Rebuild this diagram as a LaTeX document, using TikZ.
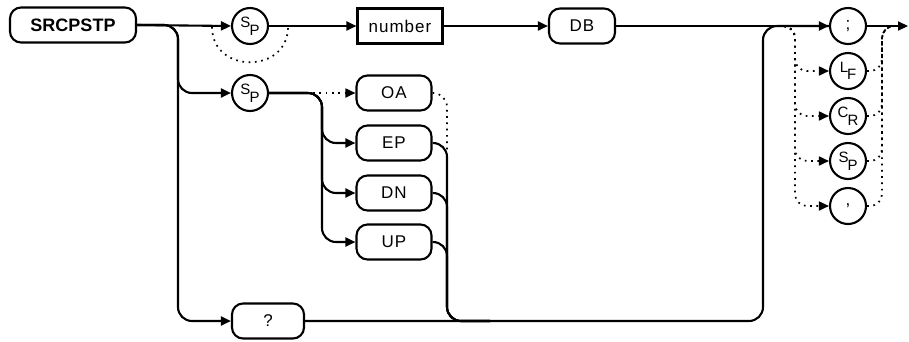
\documentclass[tikz,border=0pt]{standalone}
\usepackage{fontspec}
\setsansfont{Liberation Sans}
\usetikzlibrary{arrows.meta,calc}
\newcommand{\twolet}[2]{{\fontsize{15}{15}\selectfont\raisebox{0.4ex}{#1}\kern-1pt\raisebox{-0.55ex}{#2}}}

\begin{document}
\begin{tikzpicture}[x=1pt,y=1pt,
    every node/.style={font=\sffamily\fontsize{17}{17}\selectfont\addfontfeature{LetterSpace=6}},
    line/.style={line width=2.1pt},
    arr/.style={line, -{Triangle[length=10pt,width=9pt]}},
    dots/.style={line width=1.7pt, dash pattern=on 1.7pt off 4.6pt},
    dotarr/.style={dots, -{Triangle[length=10pt,width=9pt]}},
    keyword/.style={draw, line width=2.1pt, rounded corners=11pt, minimum height=35pt, inner sep=0pt},
    param/.style={draw, line width=2.1pt, minimum height=35pt, minimum width=85pt, inner sep=0pt},
    chr/.style={draw, circle, line width=2.1pt, minimum size=36pt, inner sep=0pt}]
    \useasboundingbox (0,0) rectangle (909,-341);

    % top row
    \node[keyword, minimum width=126pt, font=\sffamily\bfseries\fontsize{18}{18}\selectfont] (srcpstp) at (73,-25) {SRCPSTP};
    \node[chr] (sp1) at (250,-26) {\twolet{S}{P}};
    \node[param] (number) at (400,-26) {number};
    \node[keyword, minimum width=66pt] (db) at (582,-26) {DB};

    % second branch
    \node[chr] (sp2) at (250,-93) {\twolet{S}{P}};
    \node[keyword, minimum width=75pt] (oa) at (394,-93) {OA};
    \node[keyword, minimum width=75pt] (ep) at (394,-143) {EP};
    \node[keyword, minimum width=75pt] (dn) at (394,-193) {DN};
    \node[keyword, minimum width=75pt] (up) at (394,-242) {UP};
    \node[keyword, minimum width=72pt] (qm) at (268,-321) {?};

    % terminators
    \node[chr] (semi) at (848,-26) {;};
    \node[chr] (lf) at (848,-71) {\twolet{L}{F}};
    \node[chr] (cr) at (848,-116) {\twolet{C}{R}};
    \node[chr] (sp3) at (848,-161) {\twolet{S}{P}};
    \node[chr] (comma) at (848,-206) {,};

    % rails
    \coordinate (v1) at (178,0);
    \coordinate (v2) at (322,0);
    \coordinate (v3) at (447,0);
    \coordinate (v4) at (763,0);
    \coordinate (v5) at (795,0);
    \coordinate (v6) at (882,0);
    \coordinate (d1) at (212,-27);
    \coordinate (d2) at (288,-27);
    \coordinate (j1) at (447,-156);
    \coordinate (j2) at (490,-321);
    \coordinate (j3) at (778,-26);
    \coordinate (j4) at (895,-26);
    \coordinate (out) at (908,-26);

    % optional paths
    \draw[dots] (d1) .. controls +(0,-47) and +(0,-47) .. (d2);
    \draw[dotarr] (sp2.east) -- (oa.west);
    \draw[dots, rounded corners=14pt] (oa.east) -| (j1);
    \foreach \t in {lf,cr,sp3,comma}{
        \draw[dotarr, rounded corners=12pt] (j3) -| (v5 |- \t) -- (\t.west);
        \draw[dots, rounded corners=12pt] (\t.east) -| (v6 |- semi) -- (j4);
    }

    % main line
    \draw[arr] (srcpstp.east) -- (sp1.west);
    \draw[arr] (sp1.east) -- (number.west);
    \draw[arr] (number.east) -- (db.west);
    \draw[arr] (db.east) -- (semi.west);
    \draw[arr] (semi.east) -- (out);

    % branches
    \draw[arr, rounded corners=14pt] (srcpstp.east) -| (v1 |- sp2) -- (sp2.west);
    \draw[arr, rounded corners=14pt] (srcpstp.east) -| (v1 |- qm) -- (qm.west);
    \foreach \t in {ep,dn,up}{
        \draw[arr, rounded corners=14pt] (sp2.east) -| (v2 |- \t) -- (\t.west);
        \draw[line, rounded corners=14pt] (\t.east) -| (v3 |- qm) -- (j2);
    }
    \draw[line, rounded corners=14pt] (qm.east) -| (v4 |- semi) -- (semi.west);
\end{tikzpicture}
\end{document}
